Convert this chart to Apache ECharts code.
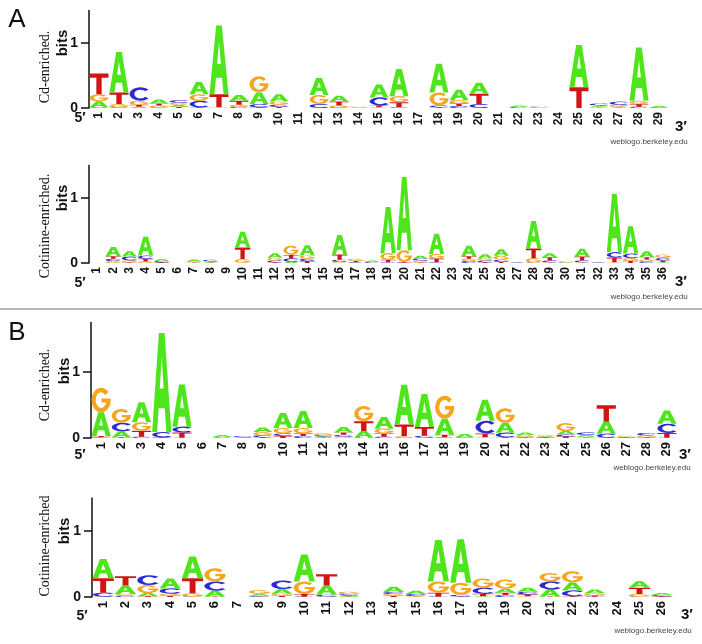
<!DOCTYPE html>
<html><head><meta charset="utf-8">
<script src="https://cdn.jsdelivr.net/npm/echarts@6/dist/echarts.min.js"></script>
<style>html,body{margin:0;padding:0;background:#fff}#c{width:702px;height:644px}</style>
</head><body><div id="c"></div>
<script>
// ---------- DATA (bits per letter at each position) ----------
// Panel A, Cd-enriched (29 positions)
const aCdA = [0.09,0.62,0.02,0.06,0.03,0.19,1.06,0.09,0.18,0.11,0,0.26,0.09,0.01,0.20,0.42,0,0.44,0.16,0.17,0,0.02,0.01,0,0.65,0.02,0.01,0.82,0.02];
const aCdC = [0.01,0.01,0.21,0.01,0.04,0.10,0,0.02,0.05,0.03,0,0.06,0.01,0,0.12,0.01,0,0.03,0.03,0.06,0,0.015,0.01,0,0,0.03,0.05,0.02,0.01];
const aCdG = [0.11,0.05,0.06,0.03,0.03,0.10,0.01,0.03,0.25,0.05,0,0.14,0.03,0.01,0.01,0.09,0,0.20,0.05,0,0,0.005,0,0,0,0.01,0.03,0.05,0];
const aCdT = [0.32,0.18,0.03,0.03,0.02,0.01,0.20,0.06,0.01,0.02,0,0,0.06,0,0.03,0.08,0,0.01,0.04,0.16,0,0,0,0,0.32,0.01,0.01,0.04,0];
// Panel A, Cotinine-enriched (36 positions)
const aCotA = [0,0.14,0.08,0.29,0.03,0,0.03,0.01,0,0.24,0,0.07,0.02,0.16,0,0.30,0.005,0.02,0.71,1.13,0.04,0.31,0,0.16,0.06,0.10,0.005,0.42,0.06,0.005,0.12,0.005,0.90,0.42,0.09,0.01];
const aCotC = [0,0.035,0.06,0.05,0.02,0,0,0.025,0,0,0,0.03,0.05,0.035,0,0.03,0.01,0.015,0.01,0.005,0.035,0.01,0,0.03,0.03,0.03,0.005,0.005,0.03,0.01,0.03,0.005,0.08,0.07,0.025,0.04];
const aCotG = [0,0.03,0.03,0.025,0.005,0,0.02,0.01,0,0.06,0,0.04,0.14,0.05,0,0.02,0.03,0.005,0.10,0.18,0.025,0.07,0,0.035,0.035,0.06,0,0.07,0.01,0.005,0.01,0,0.01,0.04,0.03,0.05];
const aCotT = [0,0.04,0.01,0.04,0.005,0,0.005,0.005,0,0.18,0,0.01,0.055,0.03,0,0.08,0.02,0,0.04,0.01,0.01,0.06,0,0.04,0.01,0.02,0,0.15,0.05,0,0.06,0,0.075,0.035,0.035,0.03];
// Panel B, Cd-enriched (29 positions)
const bCdA = [0.36,0.09,0.30,1.50,0.64,0,0.03,0.005,0.07,0.23,0.26,0.02,0.08,0.10,0.18,0.60,0.50,0.24,0.05,0.32,0.15,0.04,0.015,0.05,0.03,0.18,0.01,0.005,0.20];
const bCdC = [0.01,0.13,0.02,0.08,0.085,0,0.005,0.02,0.03,0.04,0.03,0.02,0.03,0.005,0.02,0.005,0.03,0.01,0.005,0.19,0.07,0.01,0.005,0.03,0.04,0.06,0.005,0.035,0.14];
const bCdG = [0.37,0.21,0.13,0.005,0.005,0,0.01,0.005,0.05,0.08,0.08,0.025,0.02,0.23,0.07,0.02,0.005,0.35,0.005,0.01,0.22,0.03,0.015,0.12,0.01,0.005,0.015,0.03,0.005];
const bCdT = [0.02,0.01,0.09,0.005,0.08,0,0,0,0.01,0.03,0.04,0.005,0.035,0.15,0.05,0.18,0.13,0.04,0,0.06,0.01,0.005,0.005,0.025,0.005,0.25,0.005,0.005,0.07];
// Panel B, Cotinine-enriched (26 positions)
const bCotA = [0.29,0.13,0.05,0.15,0.33,0.09,0,0.025,0.07,0.41,0.14,0.02,0,0.08,0.05,0.63,0.66,0.01,0.06,0.06,0.11,0.12,0.06,0,0.10,0.03];
const bCotC = [0.06,0.02,0.15,0.08,0.005,0.14,0,0.015,0.13,0.005,0.03,0.02,0,0.03,0.03,0.005,0.03,0.09,0.03,0.04,0.12,0.09,0.005,0,0.005,0.02];
const bCotG = [0.005,0.025,0.12,0.03,0.05,0.20,0,0.06,0.03,0.19,0.005,0.035,0,0.025,0.01,0.17,0.18,0.14,0.14,0.01,0.13,0.17,0.03,0,0.04,0.005];
const bCotT = [0.22,0.14,0.01,0.02,0.23,0.005,0,0.005,0.02,0.04,0.17,0.005,0,0.02,0.005,0.06,0.005,0.04,0.035,0.03,0.005,0.01,0.02,0,0.095,0.005];

// ---------- STYLE ----------
const LETTERS = ['A','C','G','T'];
const COLORS = ['#4fe51c','#2b2bd6','#f7a51e','#d21414'];
const GLYPHS = [
  'M35,0 L65,0 L100,100 L74,100 L66,76 L34,76 L26,100 L0,100 Z M50,24 L40,56 L60,56 Z',
  'M87.2,16.5 A50,50 0 1 0 87.2,83.5 L72.1,69.7 A28,32 0 1 1 72.1,30.3 Z',
  'M87.2,16.5 A50,50 0 1 0 100,50 L100,44 L52,44 L52,60 L76.6,60 A28,32 0 1 1 72.1,30.3 Z',
  'M0,0 L100,0 L100,20 L64,20 L64,100 L36,100 L36,20 L0,20 Z'
];

function buildStack(cols) {
  const out = [];
  const n = cols[0].length;
  for (let i = 0; i < n; i++) {
    const items = cols.map((arr, k) => ({k, v: arr[i]})).filter(o => o.v > 0).sort((a, b) => a.v - b.v);
    let base = 0;
    items.forEach(o => { out.push([i, base, base + o.v, o.k]); base += o.v; });
  }
  return out;
}
function cats(n) { return Array.from({length: n}, (_, i) => String(i + 1)); }

const panels = [
  {cols: [aCdA, aCdC, aCdG, aCdT], grid: {left: 89, top: 10.5, width: 580, height: 97.5}, max: 1.5, fs: 12},
  {cols: [aCotA, aCotC, aCotG, aCotT], grid: {left: 89, top: 165.5, width: 582, height: 97.5}, max: 1.5, fs: 12},
  {cols: [bCdA, bCdC, bCdG, bCdT], grid: {left: 91, top: 322.5, width: 586, height: 115.5}, max: 1.75, fs: 13},
  {cols: [bCotA, bCotC, bCotG, bCotT], grid: {left: 92, top: 498, width: 581, height: 99}, max: 1.5, fs: 13}
];

function renderLetter(params, api) {
  const i = api.value(0), y0 = api.value(1), y1 = api.value(2), k = api.value(3);
  const p0 = api.coord([i, y0]);
  const p1 = api.coord([i, y1]);
  const bw = api.size([1, 0])[0] * 0.95;
  const h = Math.max(p0[1] - p1[1], 0.6);
  return {
    type: 'path',
    shape: {pathData: GLYPHS[k], x: p0[0] - bw / 2, y: p0[1] - h, width: bw, height: h, layout: 'cover'},
    style: {fill: COLORS[k]}
  };
}

const FONT = '"Liberation Sans", Arial, Helvetica, sans-serif';
const SERIF = '"Liberation Serif", "Times New Roman", serif';

const option = {
  animation: false,
  backgroundColor: '#fff',
  grid: panels.map(p => Object.assign({containLabel: false}, p.grid)),
  xAxis: panels.map((p, idx) => ({
    type: 'category', gridIndex: idx, data: cats(p.cols[0].length), boundaryGap: true,
    axisLine: {show: false}, axisTick: {show: false}, splitLine: {show: false},
    axisLabel: {interval: 0, rotate: 90, margin: 4, fontSize: p.fs, fontWeight: 'bold', color: '#111', fontFamily: FONT}
  })),
  yAxis: panels.map((p, idx) => ({
    type: 'value', gridIndex: idx, min: 0, max: p.max, interval: 1,
    axisLine: {show: true, lineStyle: {color: '#111', width: 1.5}},
    axisTick: {show: true, length: 8, customValues: [0, 1], lineStyle: {color: '#111', width: 1.5}},
    axisLabel: {show: true, customValues: [0, 1], margin: 11, fontSize: 14, fontWeight: 'bold', color: '#111', fontFamily: FONT},
    splitLine: {show: false}
  })),
  series: panels.map((p, idx) => ({
    type: 'custom', xAxisIndex: idx, yAxisIndex: idx, clip: false,
    data: buildStack(p.cols), encode: {x: 0, y: [1, 2]}, renderItem: renderLetter
  })),
  graphic: [
    {type: 'text', x: 17, y: 20, style: {text: 'A', font: '26px ' + FONT, fill: '#111', align: 'center', verticalAlign: 'middle'}},
    {type: 'text', x: 17, y: 333, style: {text: 'B', font: '26px ' + FONT, fill: '#111', align: 'center', verticalAlign: 'middle'}},
    {type: 'line', shape: {x1: 0, y1: 309, x2: 702, y2: 309}, style: {stroke: '#b5b5b5', lineWidth: 2}},
    // y labels
    {type: 'text', x: 63, y: 43, rotation: Math.PI / 2, style: {text: 'bits', font: 'bold 15px ' + FONT, fill: '#111', align: 'center', verticalAlign: 'middle'}},
    {type: 'text', x: 63, y: 198, rotation: Math.PI / 2, style: {text: 'bits', font: 'bold 15px ' + FONT, fill: '#111', align: 'center', verticalAlign: 'middle'}},
    {type: 'text', x: 65, y: 371, rotation: Math.PI / 2, style: {text: 'bits', font: 'bold 15px ' + FONT, fill: '#111', align: 'center', verticalAlign: 'middle'}},
    {type: 'text', x: 65, y: 531, rotation: Math.PI / 2, style: {text: 'bits', font: 'bold 15px ' + FONT, fill: '#111', align: 'center', verticalAlign: 'middle'}},
    {type: 'text', x: 45, y: 67, rotation: Math.PI / 2, style: {text: 'Cd-enriched.', font: '14px ' + SERIF, fill: '#111', align: 'center', verticalAlign: 'middle'}},
    {type: 'text', x: 45, y: 226, rotation: Math.PI / 2, style: {text: 'Cotinine-enriched.', font: '14px ' + SERIF, fill: '#111', align: 'center', verticalAlign: 'middle'}},
    {type: 'text', x: 45, y: 385, rotation: Math.PI / 2, style: {text: 'Cd-enriched.', font: '14px ' + SERIF, fill: '#111', align: 'center', verticalAlign: 'middle'}},
    {type: 'text', x: 45, y: 546, rotation: Math.PI / 2, style: {text: 'Cotinine-enriched', font: '14px ' + SERIF, fill: '#111', align: 'center', verticalAlign: 'middle'}},
    // 5' / 3'
    {type: 'text', x: 80, y: 118, style: {text: '5′', font: 'bold 14px ' + FONT, fill: '#111', align: 'center', verticalAlign: 'middle'}},
    {type: 'text', x: 681, y: 127, style: {text: '3′', font: 'bold 15px ' + FONT, fill: '#111', align: 'center', verticalAlign: 'middle'}},
    {type: 'text', x: 80, y: 283, style: {text: '5′', font: 'bold 14px ' + FONT, fill: '#111', align: 'center', verticalAlign: 'middle'}},
    {type: 'text', x: 681, y: 282, style: {text: '3′', font: 'bold 15px ' + FONT, fill: '#111', align: 'center', verticalAlign: 'middle'}},
    {type: 'text', x: 80, y: 455, style: {text: '5′', font: 'bold 14px ' + FONT, fill: '#111', align: 'center', verticalAlign: 'middle'}},
    {type: 'text', x: 685, y: 455, style: {text: '3′', font: 'bold 15px ' + FONT, fill: '#111', align: 'center', verticalAlign: 'middle'}},
    {type: 'text', x: 82, y: 616, style: {text: '5′', font: 'bold 14px ' + FONT, fill: '#111', align: 'center', verticalAlign: 'middle'}},
    {type: 'text', x: 687, y: 615, style: {text: '3′', font: 'bold 15px ' + FONT, fill: '#111', align: 'center', verticalAlign: 'middle'}},
    // credits
    {type: 'text', x: 649, y: 142, style: {text: 'weblogo.berkeley.edu', font: '8px ' + FONT, fill: '#444', align: 'center', verticalAlign: 'middle'}},
    {type: 'text', x: 649, y: 297, style: {text: 'weblogo.berkeley.edu', font: '8px ' + FONT, fill: '#444', align: 'center', verticalAlign: 'middle'}},
    {type: 'text', x: 652, y: 468, style: {text: 'weblogo.berkeley.edu', font: '8px ' + FONT, fill: '#444', align: 'center', verticalAlign: 'middle'}},
    {type: 'text', x: 653, y: 631, style: {text: 'weblogo.berkeley.edu', font: '8px ' + FONT, fill: '#444', align: 'center', verticalAlign: 'middle'}}
  ]
};

const chart = echarts.init(document.getElementById('c'), null, {renderer: 'canvas'});
chart.setOption(option);
</script>
</body></html>
